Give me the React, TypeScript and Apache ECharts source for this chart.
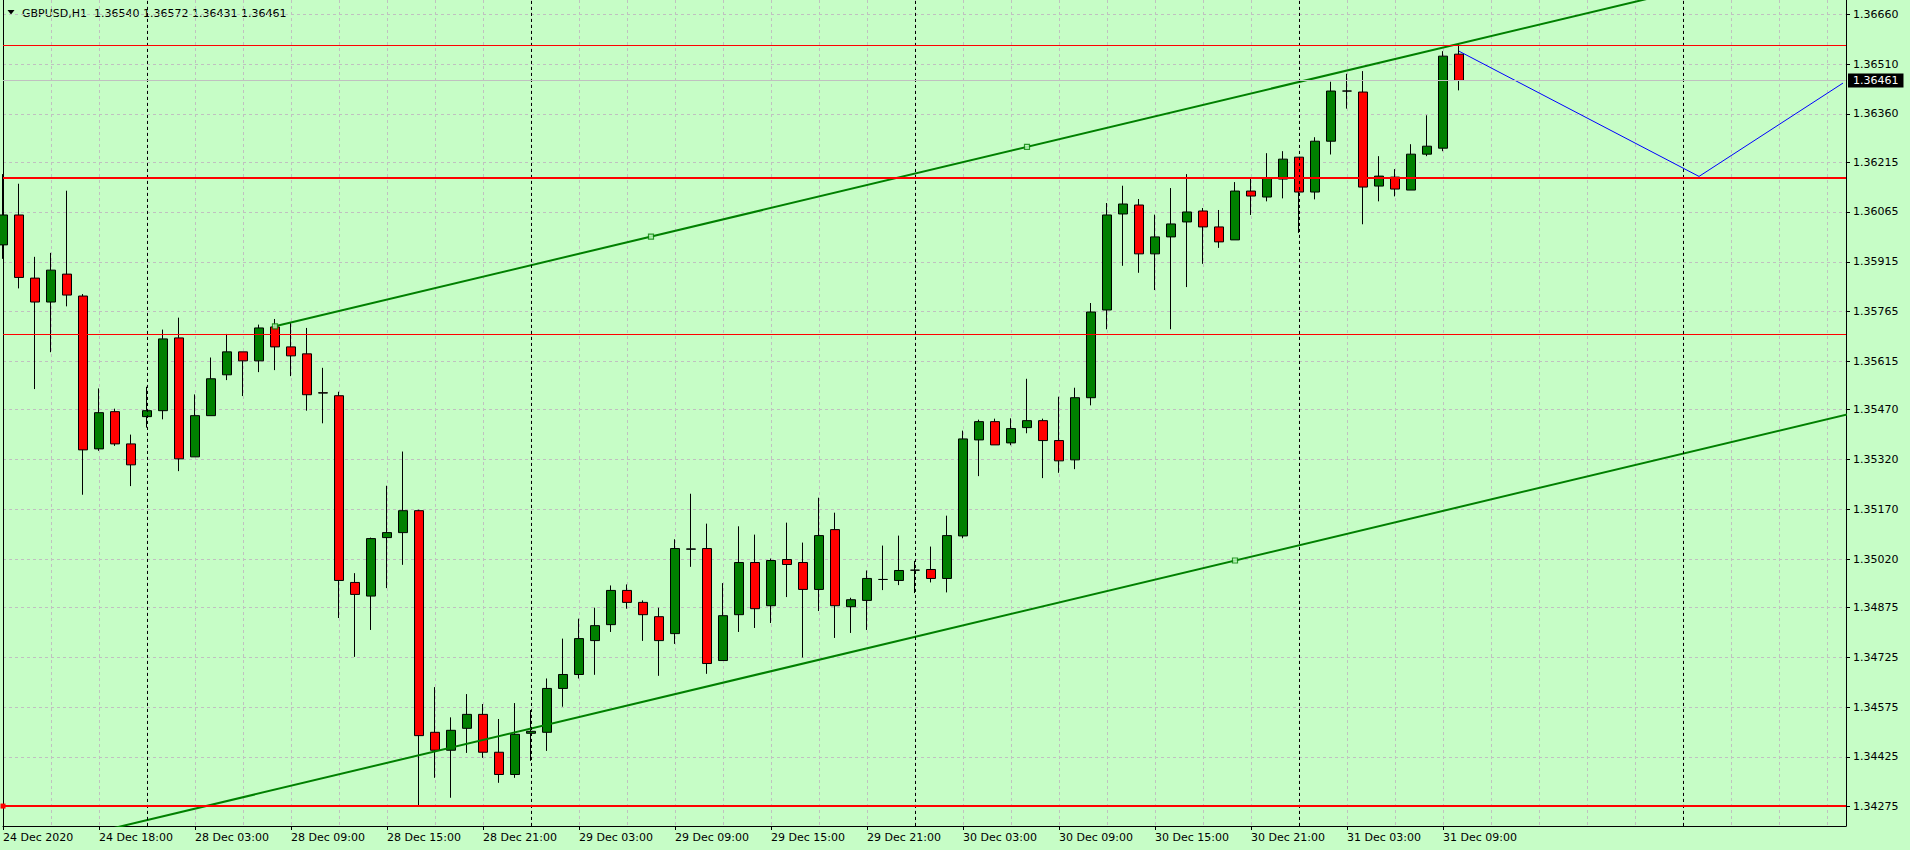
import React, { useEffect, useRef } from 'react';
import * as echarts from 'echarts';

// ---- Data: hourly GBPUSD candles, index 0 = 24 Dec 12:00 ----
const opens = [
  1.35966, 1.36056, 1.35866, 1.35794, 1.35878, 1.35812, 1.35352, 1.35464, 1.35367, 1.35449,
  1.35467, 1.35686, 1.35328, 1.35452, 1.35575, 1.35644, 1.35617, 1.35719, 1.35659, 1.35638,
  1.35521, 1.35512, 1.34950, 1.34909, 1.35085, 1.35100, 1.35166, 1.34499, 1.34445, 1.34511,
  1.34553, 1.34439, 1.34372, 1.34496, 1.34499, 1.34631, 1.34673, 1.34775, 1.34823, 1.34926,
  1.34890, 1.34847, 1.34796, 1.35050, 1.35052, 1.34715, 1.34853, 1.35010, 1.34880, 1.35019,
  1.35010, 1.34929, 1.35109, 1.34877, 1.34896, 1.34959, 1.34956, 1.34987, 1.34989, 1.34962,
  1.35090, 1.35379, 1.35434, 1.35370, 1.35416, 1.35437, 1.35377, 1.35319, 1.35506, 1.35770,
  1.36059, 1.36086, 1.35939, 1.35990, 1.36035, 1.36068, 1.36020, 1.35981, 1.36128, 1.36110,
  1.36164, 1.36230, 1.36125, 1.36278, 1.36429, 1.36426, 1.36143, 1.36170, 1.36131, 1.36239,
  1.36257, 1.36540,
];
const closes = [
  1.36056, 1.35868, 1.35794, 1.35890, 1.35815, 1.35349, 1.35461, 1.35367, 1.35304, 1.35467,
  1.35683, 1.35322, 1.35452, 1.35563, 1.35644, 1.35617, 1.35716, 1.35659, 1.35632, 1.35515,
  1.35520, 1.34956, 1.34914, 1.35082, 1.35100, 1.35166, 1.34489, 1.34445, 1.34505, 1.34553,
  1.34439, 1.34372, 1.34493, 1.34502, 1.34631, 1.34673, 1.34781, 1.34820, 1.34926, 1.34890,
  1.34853, 1.34775, 1.35052, 1.35051, 1.34706, 1.34850, 1.35010, 1.34871, 1.35016, 1.35004,
  1.34929, 1.35091, 1.34880, 1.34898, 1.34962, 1.34959, 1.34986, 1.34987, 1.34962, 1.35091,
  1.35382, 1.35434, 1.35364, 1.35413, 1.35437, 1.35377, 1.35316, 1.35506, 1.35764, 1.36056,
  1.36089, 1.35939, 1.35990, 1.36029, 1.36065, 1.36020, 1.35975, 1.36128, 1.36113, 1.36167,
  1.36224, 1.36125, 1.36278, 1.36429, 1.36429, 1.36140, 1.36173, 1.36134, 1.36239, 1.36263,
  1.36534, 1.36461,
];
const lows = [
  1.35924, 1.35835, 1.35532, 1.35643, 1.35781, 1.35214, 1.35346, 1.35361, 1.35240, 1.35416,
  1.35441, 1.35285, 1.35328, 1.35452, 1.35559, 1.35511, 1.35583, 1.35589, 1.35571, 1.35467,
  1.35429, 1.34843, 1.34726, 1.34807, 1.34933, 1.35003, 1.34277, 1.34362, 1.34302, 1.34437,
  1.34422, 1.34347, 1.34362, 1.34413, 1.34443, 1.34576, 1.34661, 1.34672, 1.34801, 1.34871,
  1.34774, 1.34669, 1.34765, 1.34997, 1.34675, 1.34715, 1.34801, 1.34813, 1.34828, 1.34906,
  1.34724, 1.34864, 1.34783, 1.34798, 1.34807, 1.34927, 1.34942, 1.34918, 1.34950, 1.34920,
  1.35083, 1.35270, 1.35364, 1.35363, 1.35399, 1.35264, 1.35280, 1.35291, 1.35483, 1.35712,
  1.35903, 1.35882, 1.35830, 1.35712, 1.35839, 1.35909, 1.35957, 1.35981, 1.36056, 1.36097,
  1.36106, 1.36002, 1.36103, 1.36238, 1.36376, 1.36028, 1.36097, 1.36112, 1.36131, 1.36233,
  1.36248, 1.36431,
];
const highs = [
  1.36179, 1.36150, 1.35930, 1.35942, 1.36129, 1.35818, 1.35534, 1.35473, 1.35395, 1.35539,
  1.35711, 1.35747, 1.35516, 1.35627, 1.35698, 1.35644, 1.35726, 1.35743, 1.35734, 1.35716,
  1.35596, 1.35524, 1.34978, 1.35085, 1.35241, 1.35344, 1.35169, 1.34635, 1.34544, 1.34614,
  1.34584, 1.34539, 1.34587, 1.34566, 1.34661, 1.34781, 1.34841, 1.34874, 1.34941, 1.34944,
  1.34896, 1.34874, 1.35080, 1.35217, 1.35127, 1.34948, 1.35119, 1.35094, 1.35022, 1.35130,
  1.35070, 1.35205, 1.35160, 1.34904, 1.34986, 1.35061, 1.35091, 1.35015, 1.35058, 1.35151,
  1.35407, 1.35440, 1.35443, 1.35444, 1.35563, 1.35443, 1.35509, 1.35536, 1.35791, 1.36092,
  1.36144, 1.36104, 1.36057, 1.36137, 1.36179, 1.36077, 1.36071, 1.36155, 1.36167, 1.36242,
  1.36248, 1.36230, 1.36290, 1.36457, 1.36481, 1.36489, 1.36233, 1.36194, 1.36269, 1.36356,
  1.36549, 1.36572,
];

const xTickIndex = [0, 6, 12, 18, 24, 30, 36, 42, 48, 54, 60, 66, 72, 78, 84, 90];
const xTickLabels = [
  '24 Dec 2020', '24 Dec 18:00', '28 Dec 03:00', '28 Dec 09:00', '28 Dec 15:00', '28 Dec 21:00',
  '29 Dec 03:00', '29 Dec 09:00', '29 Dec 15:00', '29 Dec 21:00', '30 Dec 03:00', '30 Dec 09:00',
  '30 Dec 15:00', '30 Dec 21:00', '31 Dec 03:00', '31 Dec 09:00',
];
const daySeparators = [9, 33, 57, 81, 105];

const yTickValues = [
  1.3666, 1.3651, 1.3636, 1.36215, 1.36065, 1.35915, 1.35765, 1.35615, 1.3547,
  1.3532, 1.3517, 1.3502, 1.34875, 1.34725, 1.34575, 1.34425, 1.34275,
];

// horizontal levels: [price, width]
const redLevels: [number, number][] = [
  [1.36568, 1],
  [1.36169, 2],
  [1.35698, 1],
  [1.34277, 2],
];

// equidistant channel anchors [barIndex, price]
const channelA: [number, number] = [17, 1.35721];
const channelB: [number, number] = [64, 1.36261];
const channelLowerAnchor: [number, number] = [77, 1.35016];

// blue zigzag [barIndex, price]
const zigzag: [number, number][] = [
  [91, 1.36549],
  [106, 1.36172],
  [115, 1.36453],
];

const BG = '#c6fdc6';
const FONT = "'DejaVu Sans', Verdana, sans-serif";
const X_MIN = 0;
const X_MAX = 115.1875;
const Y_MIN = 1.34217;
const Y_MAX = 1.36703;

export default function App() {
  const ref = useRef<HTMLDivElement>(null);

  useEffect(() => {
    if (!ref.current) return;
    const chart = echarts.init(ref.current, null, { renderer: 'svg' });

    const last = opens.length - 1;
    const candleData = opens.map((o, i) => [i, o, closes[i], lows[i], highs[i]]);
    const slope = (channelB[1] - channelA[1]) / (channelB[0] - channelA[0]);
    const upper = (i: number) => channelA[1] + (i - channelA[0]) * slope;
    const lower = (i: number) => channelLowerAnchor[1] + (i - channelLowerAnchor[0]) * slope;
    const midIdx = (channelA[0] + channelB[0]) / 2;

    const titleNums = [opens[last], highs[last], lows[last], closes[last]]
      .map((v) => v.toFixed(5))
      .join(' ');

    const option: any = {
      animation: false,
      backgroundColor: BG,
      textStyle: { fontFamily: FONT, fontSize: 11, color: '#000' },
      grid: { left: 3, right: 64, top: -1, bottom: 24, show: false, containLabel: false },
      xAxis: [
        {
          type: 'value',
          min: X_MIN,
          max: X_MAX,
          position: 'bottom',
          axisLine: { show: true, onZero: false, lineStyle: { color: '#000', width: 1 } },
          axisTick: { show: true, customValues: xTickIndex, length: 4, lineStyle: { color: '#000' } },
          axisLabel: {
            customValues: xTickIndex,
            formatter: (v: number) => {
              const k = xTickIndex.indexOf(Math.round(v));
              return k >= 0 ? xTickLabels[k] : '';
            },
            align: 'left',
            margin: 6,
            color: '#000',
            fontFamily: FONT,
            fontSize: 11,
          },
          splitLine: { show: false },
        },
        {
          type: 'value',
          min: X_MIN,
          max: X_MAX,
          interval: 3,
          position: 'top',
          axisLine: { show: false, onZero: false },
          axisTick: { show: false },
          axisLabel: { show: false },
          splitLine: { show: true, lineStyle: { color: '#c0c0c0', width: 1, type: [3, 3] } },
        },
      ],
      yAxis: [
        {
          type: 'value',
          position: 'right',
          min: Y_MIN,
          max: Y_MAX,
          scale: true,
          axisLine: { show: true, onZero: false, lineStyle: { color: '#000', width: 1 } },
          axisTick: { show: true, customValues: yTickValues, length: 4, lineStyle: { color: '#000' } },
          axisLabel: {
            customValues: yTickValues,
            formatter: (v: number) => v.toFixed(5),
            margin: 7,
            color: '#000',
            fontFamily: FONT,
            fontSize: 11,
          },
          splitLine: { show: true, lineStyle: { color: '#c0c0c0', width: 1, type: [3, 3] } },
        },
        {
          type: 'value',
          position: 'left',
          min: Y_MIN,
          max: Y_MAX,
          scale: true,
          axisLine: { show: true, onZero: false, lineStyle: { color: '#000', width: 1 } },
          axisTick: { show: false },
          axisLabel: { show: false },
          splitLine: { show: false },
        },
      ],
      graphic: [
        {
          type: 'polygon',
          shape: { points: [[7.5, 10], [14.5, 10], [11, 14.5]] },
          style: { fill: '#000' },
          silent: true,
        },
        {
          type: 'text',
          x: 22,
          y: 13,
          silent: true,
          style: {
            text: 'GBPUSD,H1',
            font: `11px ${FONT}`,
            fill: '#000',
            textAlign: 'left',
            align: 'left',
            textVerticalAlign: 'middle',
            verticalAlign: 'middle',
          },
        },
        {
          type: 'text',
          x: 94,
          y: 13,
          silent: true,
          style: {
            text: titleNums,
            font: `11px ${FONT}`,
            fill: '#000',
            textAlign: 'left',
            align: 'left',
            textVerticalAlign: 'middle',
            verticalAlign: 'middle',
          },
        },
      ],
      series: [
        {
          name: 'separators',
          type: 'line',
          data: [],
          xAxisIndex: 0,
          yAxisIndex: 0,
          z: 1,
          silent: true,
          markLine: {
            silent: true,
            precision: 5,
            symbol: 'none',
            label: { show: false },
            lineStyle: { color: '#000', width: 1, type: [3, 3] },
            data: daySeparators.map((x) => ({ xAxis: x })),
          },
        },
        {
          name: 'GBPUSD',
          type: 'candlestick',
          xAxisIndex: 0,
          yAxisIndex: 0,
          z: 2,
          barWidth: 9,
          encode: { x: 0, y: [1, 2, 3, 4] },
          data: candleData,
          itemStyle: {
            color: '#008000',
            color0: '#ff0000',
            borderColor: '#000',
            borderColor0: '#000',
            borderColorDoji: '#000',
            borderWidth: 1,
          },
          markLine: {
            silent: true,
            precision: 5,
            symbol: 'none',
            label: { show: false },
            data: [
              {
                yAxis: closes[last],
                lineStyle: { color: '#c0c0c0', width: 1, type: 'solid' },
                label: {
                  show: true,
                  position: 'end',
                  formatter: closes[last].toFixed(5),
                  backgroundColor: '#000',
                  color: '#fff',
                  padding: [1, 5, 1, 5],
                  distance: 2,
                  fontFamily: FONT,
                  fontSize: 11,
                  lineHeight: 12,
                },
              },
              ...redLevels.map(([v, w], k) => ({
                yAxis: v,
                symbol: k === redLevels.length - 1 ? ['emptyRect', 'emptyRect'] : 'none',
                symbolSize: 5,
                lineStyle: { color: '#ff0000', width: w, type: 'solid' },
                label: { show: false },
              })),
            ],
          },
        },
        {
          name: 'channelUpper',
          type: 'line',
          xAxisIndex: 0,
          yAxisIndex: 0,
          z: 4,
          silent: true,
          clip: true,
          showSymbol: false,
          lineStyle: { color: '#008000', width: 2 },
          data: [
            [channelA[0], upper(channelA[0])],
            [140, upper(140)],
          ],
        },
        {
          name: 'channelLower',
          type: 'line',
          xAxisIndex: 0,
          yAxisIndex: 0,
          z: 4,
          silent: true,
          clip: true,
          showSymbol: false,
          lineStyle: { color: '#008000', width: 2 },
          data: [
            [-20, lower(-20)],
            [140, lower(140)],
          ],
        },
        {
          name: 'zigzag',
          type: 'line',
          xAxisIndex: 0,
          yAxisIndex: 0,
          z: 4,
          silent: true,
          clip: true,
          showSymbol: false,
          lineStyle: { color: '#0000ff', width: 1 },
          data: zigzag,
        },
        {
          name: 'anchors',
          type: 'scatter',
          xAxisIndex: 0,
          yAxisIndex: 0,
          z: 5,
          silent: true,
          symbol: 'rect',
          symbolSize: 5,
          itemStyle: { color: BG, borderColor: '#008000', borderWidth: 1.2 },
          data: [
            [channelA[0], upper(channelA[0])],
            [midIdx, upper(midIdx)],
            [channelB[0], upper(channelB[0])],
            [channelLowerAnchor[0], lower(channelLowerAnchor[0])],
          ],
        },
      ],
    };

    chart.setOption(option);
    return () => chart.dispose();
  }, []);

  return (
    <div
      ref={ref}
      style={{ position: 'fixed', left: 0, top: 0, width: 1910, height: 850, background: BG }}
    />
  );
}
